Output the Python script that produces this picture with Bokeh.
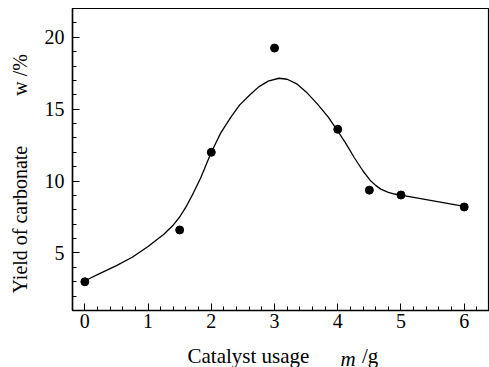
import math
from bokeh.plotting import figure
from bokeh.models import Label, FixedTicker, Range1d
from bokeh.embed import file_html
from bokeh.resources import INLINE

# measured points
usage = [0, 1.5, 2, 3, 4, 4.5, 5, 6]
yield_pct = [3.0, 6.6, 12.0, 19.25, 13.6, 9.37, 9.03, 8.2]

# fitted curve
curve_x = [0, 0.25, 0.5, 0.75, 1.0, 1.25, 1.4, 1.5, 1.6, 1.72, 1.83, 2.0, 2.15, 2.31,
           2.45, 2.62, 2.75, 2.9, 3.07, 3.2, 3.36, 3.5, 3.68, 3.85, 3.99, 4.13, 4.26,
           4.4, 4.52, 4.6, 4.68, 4.8, 4.9, 5.0, 6.0]
curve_y = [3.07, 3.6, 4.12, 4.7, 5.45, 6.3, 6.95, 7.5, 8.2, 9.2, 10.2, 12.0, 13.35, 14.45,
           15.3, 16.04, 16.55, 16.95, 17.15, 17.08, 16.74, 16.2, 15.35, 14.45, 13.55, 12.6, 11.64,
           10.7, 10.02, 9.7, 9.44, 9.22, 9.1, 9.03, 8.24]

x_major = [0, 1, 2, 3, 4, 5, 6]
y_major = [5, 10, 15, 20]

NB = "\u00a0"
y_title = "Yield of carbonate" + NB * 10 + "w /%"
x_title = "Catalyst usage" + NB * 10 + "/g"
x_unit_sym = "m"

FONT = "Liberation Serif"
FS = "20px"
FS_X = "21px"

p = figure(width=489, height=367, output_backend="svg", toolbar_location=None,
           x_range=Range1d(-0.195, 6.40), y_range=Range1d(1, 22),
           min_border_left=72, min_border_right=0, min_border_top=8, min_border_bottom=57)
p.grid.visible = False
p.outline_line_color = "black"
p.outline_line_width = 1.2

p.line(curve_x, curve_y, line_color="black", line_width=1.3)
p.scatter(usage, yield_pct, size=8, color="black")

for ax in (p.xaxis[0], p.yaxis[0]):
    ax.axis_line_width = 1.5
    ax.major_tick_in = 7
    ax.major_tick_out = 0
    ax.minor_tick_in = 4
    ax.minor_tick_out = 0
    ax.major_label_text_font = FONT
    ax.major_label_text_font_size = FS
    ax.major_label_text_color = "black"
    ax.axis_label = None

p.xaxis[0].ticker = FixedTicker(ticks=x_major,
                                minor_ticks=[round(-0.2 + 0.2 * i, 2) for i in range(34)])
p.yaxis[0].ticker = FixedTicker(ticks=y_major, minor_ticks=list(range(1, 23)))
p.xaxis[0].major_label_standoff = 3
p.yaxis[0].major_label_standoff = 8

def lab(text, x, y, side, size, angle=0, italic=False):
    p.add_layout(Label(x=x, y=y, x_units="screen", y_units="screen", text=text,
                       angle=angle, text_font=FONT, text_font_size=size,
                       text_font_style="italic" if italic else "normal",
                       text_baseline="alphabetic", text_align="left",
                       text_color="black"), side)

lab(y_title, 0, 17, "left", FS, angle=math.pi / 2)
lab(x_title, 115, -1.5, "below", FS_X)
lab(x_unit_sym, 336, -48, "left", FS_X, italic=True)

open("out.html", "w").write(file_html(p, INLINE))
